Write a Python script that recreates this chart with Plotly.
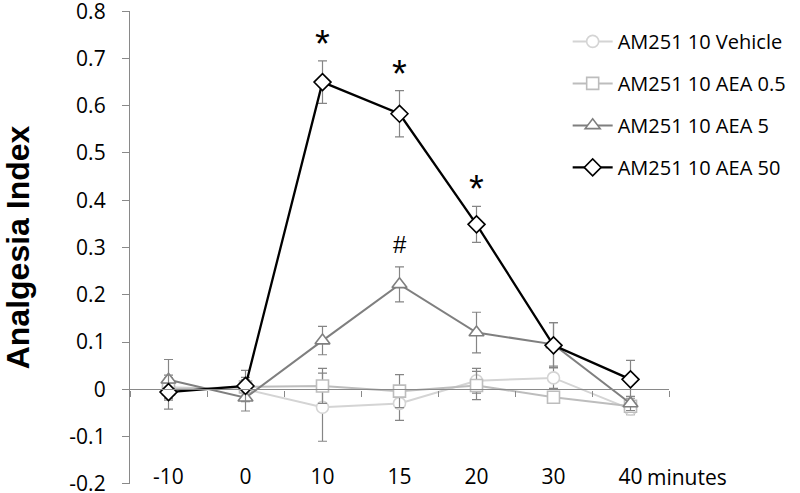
import plotly.graph_objs as go

# time points (minutes)
minutes = ["-10", "0", "10", "15", "20", "30", "40"]

# series values
vehicle = [0.004, 0.0, -0.038, -0.030, 0.018, 0.024, -0.042]
vehicle_err = [0.02, 0.02, 0.072, 0.036, 0.026, 0.022, 0.012]

aea_05 = [0.0, 0.005, 0.007, -0.004, 0.008, -0.017, -0.036]
aea_05_err = [0.02, 0.02, 0.037, 0.035, 0.03, 0.008, 0.012]

aea_5 = [0.020, -0.018, 0.103, 0.222, 0.120, 0.095, -0.030]
aea_5_err = [0.043, 0.028, 0.030, 0.037, 0.043, 0.046, 0.015]

aea_50 = [-0.006, 0.007, 0.650, 0.583, 0.349, 0.093, 0.021]
aea_50_err = [0.036, 0.033, 0.045, 0.049, 0.038, 0.048, 0.040]

y_tick_values = [-0.2, -0.1, 0, 0.1, 0.2, 0.3, 0.4, 0.5, 0.6, 0.7, 0.8]
y_tick_labels = ["-0.2", "-0.1", "0", "0.1", "0.2", "0.3", "0.4", "0.5", "0.6", "0.7", "0.8"]

# significance marks
star_points = ["10", "15", "20"]   # * over AEA 50
hash_points = ["15"]               # # over AEA 5

axis_grey = "#898989"
err_grey = "#858585"
font_name = "Open Sans"


def series(name, values, errors, line_color, symbol, size, width):
    return go.Scatter(
        x=minutes,
        y=values,
        mode="lines+markers",
        name=name,
        legendgroup=name,
        line=dict(color=line_color, width=width),
        marker=dict(symbol=symbol, size=size, color="white",
                    line=dict(color=line_color, width=1.6)),
        error_y=dict(type="data", array=errors, visible=True,
                     color=err_grey, thickness=1.2, width=4.5),
        cliponaxis=False,
    )


data = [
    series("AM251 10 Vehicle", vehicle, vehicle_err, "#d4d4d4", "circle", 12, 2),
    series("AM251 10 AEA 0.5", aea_05, aea_05_err, "#bdbdbd", "square", 12, 2),
    series("AM251 10 AEA 5", aea_5, aea_5_err, "#7f7f7f", "triangle-up", 13, 2),
    series("AM251 10 AEA 50", aea_50, aea_50_err, "#000000", "diamond", 13, 2.3),
    # carries the axis drawn along y = 0
    go.Scatter(x=minutes, y=[None] * len(minutes), xaxis="x2",
               showlegend=False, hoverinfo="skip"),
]

# category axes take the index for annotations
annotations = []
for m in star_points:
    i = minutes.index(m)
    annotations.append(dict(x=i, y=aea_50[i] + aea_50_err[i], xref="x", yref="y",
                            text="*", showarrow=False, yanchor="middle", yshift=17,
                            font=dict(family="Liberation Sans", size=38, color="black")))
for m in hash_points:
    i = minutes.index(m)
    annotations.append(dict(x=i, y=aea_5[i] + aea_5_err[i], xref="x", yref="y",
                            text="#", showarrow=False, yanchor="middle", yshift=22,
                            font=dict(family="Liberation Sans", size=24, color="black")))
annotations.append(dict(x=len(minutes) - 1, y=-0.2, xref="x", yref="y", text="minutes",
                        showarrow=False, xanchor="left", yanchor="middle",
                        xshift=14, yshift=7,
                        font=dict(family=font_name, size=21, color="black")))

layout = go.Layout(
    width=800,
    height=493,
    margin=dict(l=130, r=127, t=11, b=9),
    paper_bgcolor="white",
    plot_bgcolor="white",
    font=dict(family=font_name, size=21, color="black"),
    showlegend=True,
    legend=dict(x=0.812, y=0.977, xanchor="left", yanchor="top",
                font=dict(family=font_name, size=20, color="black"),
                tracegroupgap=13, itemwidth=40, bgcolor="rgba(0,0,0,0)"),
    # labels pulled back up into the plot, level with the -0.2 tick
    xaxis=dict(type="category", categoryorder="array", categoryarray=minutes,
               range=[-0.5, len(minutes) - 0.5], showline=False, showgrid=False,
               zeroline=False, ticks="", ticklabelstandoff=-22,
               ticklabeloverflow="allow", tickfont=dict(size=21), automargin=False),
    xaxis2=dict(type="category", categoryorder="array", categoryarray=minutes,
                overlaying="x", anchor="free", position=0.2,
                range=[-0.5, len(minutes) - 0.5], showline=True,
                linecolor=axis_grey, linewidth=1.3, ticks="outside",
                tickson="boundaries", ticklen=6, tickcolor=axis_grey,
                tickwidth=1.3, showticklabels=False, showgrid=False,
                zeroline=False, automargin=False),
    yaxis=dict(range=[-0.2005, 0.8005], tickvals=y_tick_values, ticktext=y_tick_labels,
               showline=True, linecolor=axis_grey, linewidth=1.3,
               ticks="outside", ticklen=7, tickcolor=axis_grey, tickwidth=1.3,
               ticklabelstandoff=12, ticklabeloverflow="allow",
               showgrid=False, zeroline=False, tickfont=dict(size=21),
               automargin=False,
               title=dict(text="<b>Analgesia Index</b>",
                          font=dict(family="Liberation Sans", size=32),
                          standoff=34)),
    annotations=annotations,
)

fig = go.Figure(data=data, layout=layout)
# drop the page's default body margin so the figure starts at the window corner
fig.write_html("out.html", config={"displayModeBar": False},
               post_script="document.body.style.margin = '0';")
